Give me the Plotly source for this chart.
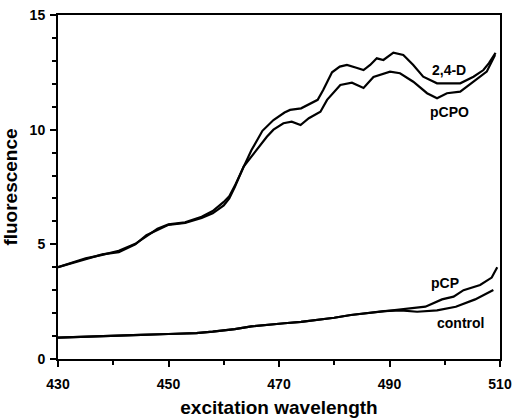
import plotly.graph_objects as go

# 2,4-D (upper main curve)
wl_24d = [430, 433, 435, 438, 441, 444, 446, 448, 450, 453, 456, 458, 460, 461, 462,
          463.6, 465, 467, 469, 471, 472, 474, 477, 478, 479.6, 481, 482.3, 484, 485.3,
          486.5, 487.7, 488.9, 490.7, 492.5, 494.3, 496.1, 498.6, 502.8, 505.2, 507, 508,
          509.2]
fl_24d = [4.0, 4.25, 4.39, 4.54, 4.72, 5.02, 5.35, 5.68, 5.87, 5.96, 6.2, 6.45, 6.85, 7.1, 7.55,
          8.39, 9.1, 9.95, 10.42, 10.75, 10.86, 10.93, 11.3, 11.73, 12.5, 12.75, 12.82, 12.7, 12.6,
          12.82, 13.11, 13.04, 13.36, 13.26, 12.82, 12.31, 12.02, 12.02, 12.31, 12.6, 12.9,
          13.35]

# pCPO
wl_pcpo = [430, 433, 435, 438, 441, 444, 446, 448, 450, 453, 456, 458, 460, 461, 462,
           463.6, 465.5, 467.8, 469, 470.8, 472.3, 473.9, 475.4, 477.5, 478.7, 481.1, 483.2,
           485.3, 487.1, 490.1, 491.9, 494.3, 496.8, 498.6, 500.4, 502.8, 505.2, 507.6, 509.1]
fl_pcpo = [4.0, 4.22, 4.37, 4.56, 4.66, 5.0, 5.4, 5.62, 5.85, 5.93, 6.15, 6.35, 6.7, 7.0, 7.5,
           8.39, 9.0, 9.69, 10.0, 10.28, 10.35, 10.2, 10.5, 10.78, 11.3, 11.95, 12.05,
           11.82, 12.3, 12.53, 12.46, 12.09, 11.59, 11.37, 11.59, 11.66, 12.09, 12.53, 13.26]

# pCP
wl_pcp = [430, 435, 440, 445, 450, 455, 458, 462, 465, 468, 471, 474, 477, 480, 483, 486,
          489, 492.5, 496.5, 499.5, 501.6, 503.4, 506.4, 508.5, 509.5]
fl_pcp = [0.93, 0.98, 1.0, 1.05, 1.09, 1.13, 1.19, 1.3, 1.42, 1.5, 1.56, 1.62, 1.7, 1.8, 1.92, 2.0,
          2.09, 2.17, 2.28, 2.6, 2.72, 3.0, 3.23, 3.55, 4.0]

# control
wl_ctrl = [430, 435, 440, 445, 450, 455, 458, 462, 465, 468, 471, 474, 477, 480, 483, 486,
           489, 492, 495, 498.6, 502, 505.5, 508.8]
fl_ctrl = [0.93, 0.98, 1.0, 1.05, 1.09, 1.13, 1.19, 1.3, 1.42, 1.5, 1.56, 1.62, 1.7, 1.8, 1.92, 2.0,
           2.09, 2.12, 2.06, 2.12, 2.28, 2.6, 3.01]

label_text = ["2,4-D", "pCPO", "pCP", "control"]
label_x = [500.7, 500.85, 500.1, 502.8]
label_y = [12.6, 10.78, 3.3, 1.56]

x_ticks = [430, 450, 470, 490, 510]
y_ticks = [0, 5, 10, 15]

FONT = "Liberation Sans, Arial, sans-serif"

fig = go.Figure()
for wl, fl, nm in [(wl_24d, fl_24d, "2,4-D"), (wl_pcpo, fl_pcpo, "pCPO"),
                   (wl_pcp, fl_pcp, "pCP"), (wl_ctrl, fl_ctrl, "control")]:
    fig.add_trace(go.Scatter(x=wl, y=fl, mode="lines", name=nm,
                             line=dict(color="black", width=2.2)))

for t, x, y in zip(label_text, label_x, label_y):
    fig.add_annotation(x=x, y=y, text="<b>%s</b>" % t, showarrow=False,
                       font=dict(family=FONT, size=14, color="black"))

axis_common = dict(showgrid=False, zeroline=False, showline=True, linecolor="black",
                   linewidth=2, mirror=True, ticks="outside", ticklen=6, tickwidth=2,
                   tickcolor="black", ticklabeloverflow="allow",
                   tickfont=dict(family=FONT, size=14, color="black", weight="bold"))

fig.update_xaxes(range=[430, 510], tickvals=x_ticks, ticklabelstandoff=5,
                 minor=dict(dtick=10, tick0=430, ticks="outside", ticklen=4, tickwidth=1.5,
                            tickcolor="black"),
                 title=dict(text="<b>excitation wavelength</b>", standoff=12,
                            font=dict(family=FONT, size=19, color="black")),
                 **axis_common)
fig.update_yaxes(range=[0, 15], tickvals=y_ticks, ticklabelstandoff=2,
                 minor=dict(dtick=1, tick0=0, ticks="outside", ticklen=4, tickwidth=1.5,
                            tickcolor="black"),
                 title=dict(text="<b>fluorescence</b>", standoff=15,
                            font=dict(family=FONT, size=19, color="black")),
                 **axis_common)

fig.update_layout(width=514, height=418, showlegend=False,
                  margin=dict(l=58, r=14, t=15, b=59, autoexpand=False),
                  plot_bgcolor="white", paper_bgcolor="white")

fig.write_html("out.html", config={"displayModeBar": False},
               post_script="document.body.style.margin='0';document.body.style.overflow='hidden';")
